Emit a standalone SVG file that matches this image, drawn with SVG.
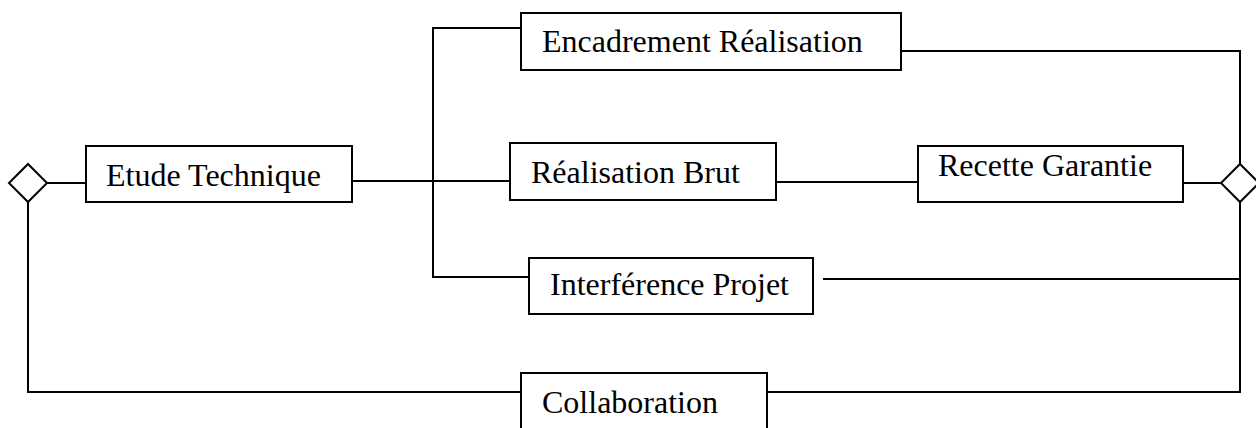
<svg xmlns="http://www.w3.org/2000/svg" width="1256" height="428" viewBox="0 0 1256 428">
<style>
.box{fill:#fff;stroke:#000;stroke-width:2}
.ln{fill:none;stroke:#000;stroke-width:2}
.dm{fill:#fff;stroke:#000;stroke-width:2}
text{font-family:"Liberation Serif","Times New Roman",serif;font-size:32px;fill:#000}
</style>
<rect width="1256" height="428" fill="#fff"/>
<g id="connectors">
<polyline class="ln" points="47,183 86,183"/>
<polyline class="ln" points="28,202 28,392 521,392"/>
<polyline class="ln" points="767,392 1240,392 1240,202"/>
<polyline class="ln" points="352,181 510,181"/>
<polyline class="ln" points="521,28 433,28 433,277 529,277"/>
<polyline class="ln" points="901,51 1240,51 1240,164"/>
<polyline class="ln" points="776,182 918,182"/>
<polyline class="ln" points="1183,183 1221,183"/>
<polyline class="ln" points="823,279 1240,279"/>
</g>
<g id="diamond-left"><polygon class="dm" points="28,164 47,183 28,202 9,183"/></g>
<g id="diamond-right"><polygon class="dm" points="1240,164 1259,183 1240,202 1221,183"/></g>
<g id="etude"><rect class="box" x="86" y="146" width="266" height="56"/><text x="106" y="186">Etude Technique</text></g>
<g id="encadrement"><rect class="box" x="521" y="13" width="380" height="57"/><text x="542" y="52">Encadrement Réalisation</text></g>
<g id="realisation"><rect class="box" x="510" y="143" width="266" height="57"/><text x="531" y="183">Réalisation Brut</text></g>
<g id="recette"><rect class="box" x="918" y="146" width="265" height="56"/><text x="938" y="176">Recette Garantie</text></g>
<g id="interference"><rect class="box" x="529" y="258" width="284" height="56"/><text x="550" y="295">Interférence Projet</text></g>
<g id="collaboration"><rect class="box" x="521" y="373" width="246" height="70"/><text x="542" y="413">Collaboration</text></g>
</svg>
